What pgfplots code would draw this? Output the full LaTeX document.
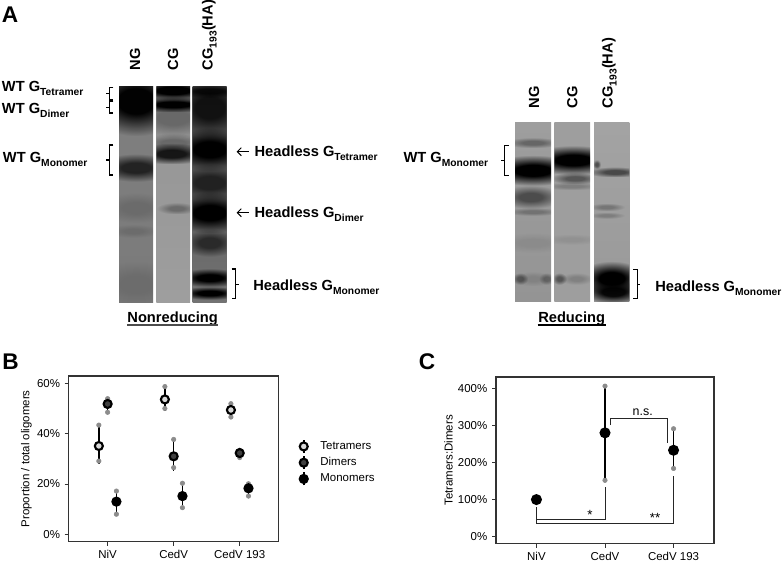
\documentclass[border=0pt]{standalone}
\usepackage{fontspec}
\setmainfont{Liberation Sans}
\usepackage{pgfplots}
\pgfplotsset{compat=1.18}
\usetikzlibrary{fadings,arrows.meta}

\pgfdeclareradialshading{softblobsh}{\pgfpointorigin}{color(0bp)=(pgftransparent!0); color(9bp)=(pgftransparent!0); color(25bp)=(pgftransparent!100); color(50bp)=(pgftransparent!100)}
\pgfdeclarefading{softblob}{\pgfuseshading{softblobsh}}

% x centre, y centre, half width, half height, strength
\newcommand{\band}[5]{\fill[black,opacity=#5,path fading=softblob] ({#1-#3},{#2-#4}) rectangle ({#1+#3},{#2+#4});}
\newcommand{\lanebg}[6]{\clip (#1,#3) rectangle (#2,#4); \shade[top color=black!#5,bottom color=black!#6] (#1,#3) rectangle (#2,#4);}
\newcommand{\lbl}[2]{{\fontsize{11}{11}\selectfont\bfseries #1\raisebox{-0.28em}{\fontsize{7.7}{8}\selectfont #2}}}
\newcommand{\brk}[4]{\draw[line width=1pt] (#1+#4,#2) -- (#1,#2) -- (#1,#3) -- (#1+#4,#3);}

\pgfplotsset{
  panel/.style={
    scale only axis,
    anchor=north west,
    xmin=0.41, xmax=3.59,
    xtick={1,2,3},
    xticklabels={NiV,CedV,CedV 193},
    tick align=outside,
    tick style={black!80,line width=0.6pt},
    major tick length=3pt,
    axis line style={black!80,line width=0.8pt},
    tick label style={font=\fontsize{8.6}{9}\selectfont},
    label style={font=\fontsize{8.6}{9}\selectfont},
    ylabel style={yshift=-3pt},
    xtick pos=bottom, ytick pos=left,
  },
  grey/.style={only marks, mark=*, mark size=1.7pt, color=black!45, forget plot},
  means/.style={only marks, mark=*, mark size=3pt, line width=1.6pt,
    error bars/y dir=both, error bars/y explicit, error bars/error mark=none,
    error bars/error bar style={black,line width=1.2pt}},
  note/.style={forget plot, black!85, line width=0.7pt},
}

\begin{document}
\begin{tikzpicture}
\path (0,0) rectangle (586.5pt,-420pt);

% panel A, nonreducing blot
\begin{scope}[x=0.25pt,y=-0.25pt]
\node[anchor=base west,inner sep=0,font=\fontsize{17}{17}\selectfont\bfseries] at (5,63) {A};
\begin{scope}
\lanebg{357}{459}{255}{903}{50}{52}
\band{408}{300}{150}{105}{0.98}
\band{408}{500}{120}{42}{0.72}
\band{408}{620}{110}{45}{0.14}
\band{400}{690}{80}{20}{0.12}
\band{408}{850}{130}{70}{0.12}
\end{scope}
\begin{scope}
\lanebg{469}{570}{255}{903}{42}{38}
\band{520}{268}{140}{32}{1}
\band{520}{310}{140}{24}{1}
\band{520}{350}{130}{60}{0.3}
\band{520}{425}{100}{28}{0.3}
\band{515}{458}{115}{32}{0.85}
\band{530}{622}{60}{18}{0.3}
\end{scope}
\begin{scope}
\lanebg{578}{680}{255}{903}{68}{55}
\band{629}{320}{120}{90}{0.8}
\band{629}{270}{110}{20}{0.8}
\band{629}{445}{130}{65}{1}
\band{629}{545}{120}{55}{0.65}
\band{629}{635}{130}{62}{1}
\band{629}{725}{85}{42}{0.6}
\band{629}{830}{105}{28}{1}
\band{629}{876}{100}{20}{1}
\end{scope}
\node[rotate=90,anchor=west,inner sep=0] at (411,208) {\lbl{NG}{}};
\node[rotate=90,anchor=west,inner sep=0] at (525,208) {\lbl{CG}{}};
\node[rotate=90,anchor=west,inner sep=0] at (628,208) {\lbl{CG}{193}\lbl{(HA)}{}};
\node[anchor=base west,inner sep=0] at (5,272) {\lbl{WT G}{Tetramer}};
\node[anchor=base west,inner sep=0] at (5,337) {\lbl{WT G}{Dimer}};
\node[anchor=base west,inner sep=0] at (8,484) {\lbl{WT G}{Monomer}};
\node[anchor=base west,inner sep=0] at (763,467) {\lbl{Headless G}{Tetramer}};
\node[anchor=base west,inner sep=0] at (763,650) {\lbl{Headless G}{Dimer}};
\node[anchor=base west,inner sep=0] at (759,868) {\lbl{Headless G}{Monomer}};
\brk{328}{260}{297}{12}
\brk{328}{302}{336}{12}
\brk{328}{432}{522}{12}
\brk{707}{804}{892}{-12}
\draw[line width=1pt] (318,278) -- (328,278) (318,320) -- (328,320) (318,477) -- (328,477) (707,850) -- (716,850);
\draw[line width=0.7pt,-{Straight Barb[length=3pt,width=6pt]}] (746,452) -- (710,452);
\draw[line width=0.7pt,-{Straight Barb[length=3pt,width=6pt]}] (746,635) -- (710,635);
\node[anchor=base,inner sep=0] at (518,965) {\lbl{Nonreducing}{}};
\draw[black!70,line width=0.8pt] (381,972) -- (655,972);
\end{scope}

% reducing blot
\begin{scope}[shift={(300pt,-37.5pt)},x=0.25pt,y=-0.25pt]
\begin{scope}
\lanebg{345}{453}{214}{752}{38}{42}
\band{399}{275}{85}{16}{0.35}
\band{399}{358}{150}{46}{1}
\band{392}{438}{95}{35}{0.5}
\band{399}{482}{85}{12}{0.25}
\band{399}{575}{110}{30}{0.08}
\band{360}{683}{24}{18}{0.4}
\band{440}{683}{24}{18}{0.3}
\band{399}{683}{60}{22}{0.12}
\end{scope}
\begin{scope}
\lanebg{463}{570}{214}{752}{38}{38}
\band{520}{327}{150}{44}{1}
\band{525}{382}{75}{18}{0.45}
\band{515}{405}{90}{12}{0.2}
\band{515}{565}{90}{16}{0.08}
\band{478}{683}{22}{18}{0.45}
\band{530}{683}{50}{18}{0.18}
\end{scope}
\begin{scope}
\lanebg{582}{688}{214}{752}{36}{40}
\band{645}{363}{85}{16}{0.55}
\band{590}{340}{12}{14}{0.5}
\band{620}{468}{55}{12}{0.25}
\band{620}{493}{55}{10}{0.2}
\band{635}{682}{105}{52}{1}
\band{640}{722}{95}{36}{0.95}
\end{scope}
\node[rotate=90,anchor=west,inner sep=0] at (408,172) {\lbl{NG}{}};
\node[rotate=90,anchor=west,inner sep=0] at (523,172) {\lbl{CG}{}};
\node[rotate=90,anchor=west,inner sep=0] at (628,172) {\lbl{CG}{193}\lbl{(HA)}{}};
\node[anchor=base west,inner sep=0] at (10,335) {\lbl{WT G}{Monomer}};
\node[anchor=base west,inner sep=0] at (765,720) {\lbl{Headless G}{Monomer}};
\brk{314}{283}{373}{13}
\brk{712}{655}{743}{-12}
\draw[line width=1pt] (304,328) -- (314,328) (712,700) -- (721,700);
\node[anchor=base,inner sep=0] at (515,815) {\lbl{Reducing}{}};
\draw[line width=0.8pt] (413,822) -- (617,822);
\end{scope}

% panel letters
\node[anchor=base west,inner sep=0,font=\fontsize{17}{17}\selectfont\bfseries] at (1.5pt,-276.2pt) {B};
\node[anchor=base west,inner sep=0,font=\fontsize{17}{17}\selectfont\bfseries] at (314pt,-276.2pt) {C};

% panel B
\begin{axis}[panel,
  at={(51.5pt,-281.25pt)}, width=157.5pt, height=124.3pt,
  ymin=-2.94, ymax=62.9,
  ytick={0,20,40,60}, yticklabels={0\%,20\%,40\%,60\%},
  ylabel={Proportion / total oligomers},
  legend style={at={(1.08,0.477)},anchor=west,draw=none,fill=none,row sep=1.3pt,
    font=\fontsize{8.6}{9}\selectfont,nodes={inner sep=1.5pt}},
  legend cell align=left,
  legend image code/.code={
    \draw[black,line width=1.2pt] (0.14cm,-0.17cm) -- (0.14cm,0.17cm);
    \draw[mark repeat=1] plot coordinates {(0.14cm,0cm)};
    \path[draw=none] (0.14cm,0cm) -- ++(11pt,0pt);
  },
]
\addplot[grey] coordinates {(0.867,43.4) (0.867,29.1) (1.867,58.7) (1.867,50) (2.867,51.9) (2.867,46.6)
  (1,53.9) (1,48.5) (2,37.7) (2,26.5) (3,33.4) (3,30.5)
  (1.133,17.2) (1.133,8) (2.133,20.3) (2.133,10.6) (3.133,20.1) (3.133,15.2)};
\addplot[means,black,mark options={fill=black!15,draw=black}] table[x=x,y=y,y error plus=up,y error minus=down] {
x y up down
0.867 35.1 8.3 7.3
1.867 53.6 4.9 4.6
2.867 49.4 2.6 2.6
};
\addlegendentry{Tetramers}
\addplot[means,black,mark options={fill=black!75,draw=black}] table[x=x,y=y,y error plus=up,y error minus=down] {
x y up down
1 51.8 2.7 3.0
2 31.0 6.5 5.8
3 32.3 1.7 1.7
};
\addlegendentry{Dimers}
\addplot[means,black,mark options={fill=black,draw=black}] table[x=x,y=y,y error plus=up,y error minus=down] {
x y up down
1.133 13.0 4.2 4.0
2.133 15.2 4.8 4.6
3.133 18.3 2.5 2.5
};
\addlegendentry{Monomers}
\end{axis}

% panel C
\begin{axis}[panel,
  at={(372pt,-282pt)}, width=163.5pt, height=125pt,
  ymin=-18.9, ymax=430.5,
  ytick={0,100,200,300,400}, yticklabels={0\%,100\%,200\%,300\%,400\%},
  ylabel={Tetramers:Dimers},
]
\addplot[grey] coordinates {(2,406) (2,152) (3,291) (3,184)};
\addplot[note] coordinates {(1,80) (1,35) (3,35) (3,163)};
\addplot[note] coordinates {(1.015,47) (2,47) (2,134)};
\addplot[note] coordinates {(2.078,301) (2.078,318) (2.91,318) (2.91,252)};
\addplot[means,black,mark size=3.3pt,mark options={fill=black,draw=black}] table[x=x,y=y,y error plus=up,y error minus=down] {
x y up down
1 100 0 0
2 280 126 128
3 233 58 49
};
\node[font=\fontsize{9.3}{9}\selectfont] at (axis cs:2.55,336) {n.s.};
\node[font=\fontsize{10}{10}\selectfont] at (axis cs:1.78,58) {*};
\node[font=\fontsize{10}{10}\selectfont] at (axis cs:2.73,50) {**};
\end{axis}
\end{tikzpicture}
\end{document}
